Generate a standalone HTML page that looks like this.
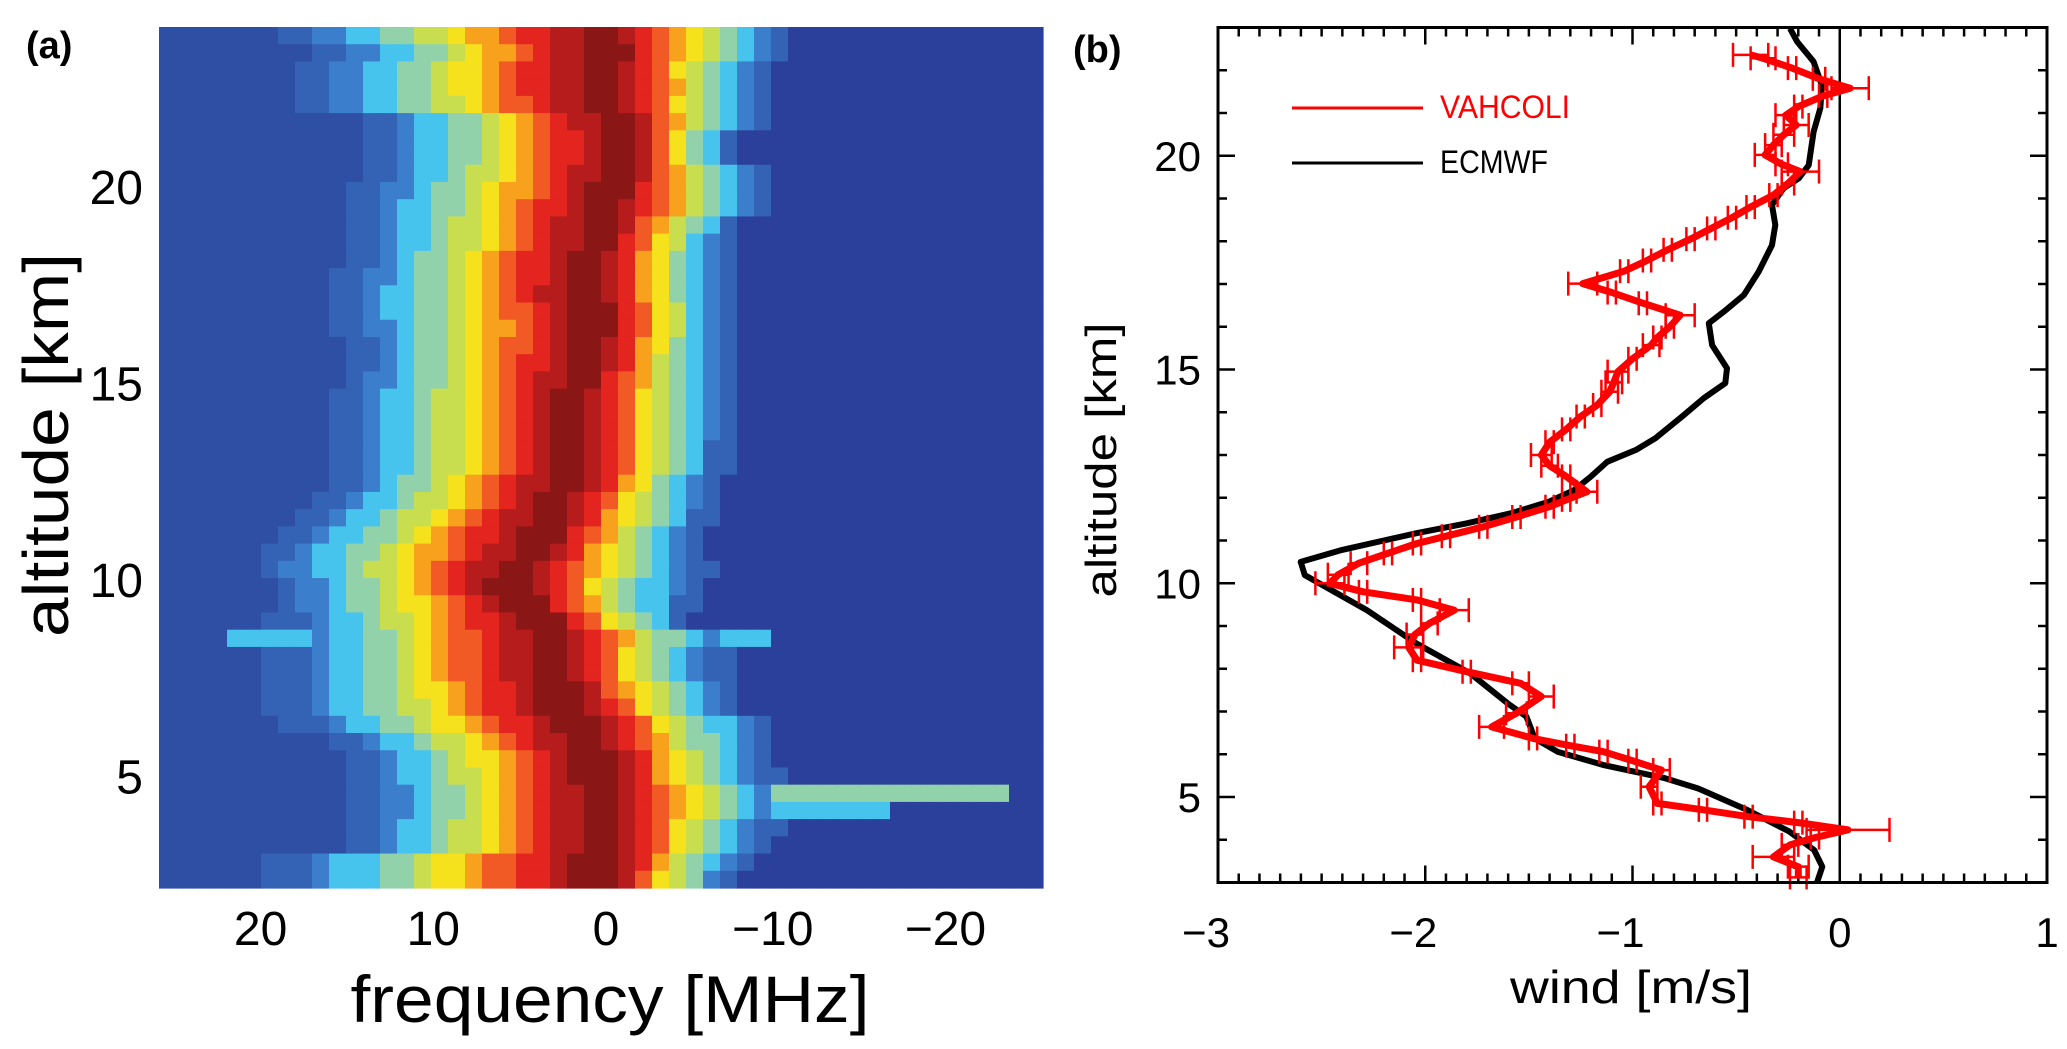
<!DOCTYPE html>
<html><head><meta charset="utf-8"><style>
html,body{margin:0;padding:0;background:#fff;}
svg{display:block;}
text{font-family:"Liberation Sans",sans-serif;}
</style></head>
<body>
<svg id="fig" width="2067" height="1049" viewBox="0 0 2067 1049" xmlns="http://www.w3.org/2000/svg">
<rect width="2067" height="1049" fill="#fff"/>
<g id="heatmap"></g>
<g id="panelA">
<text x="26" y="58" font-size="38" font-weight="bold">(a)</text>
<text transform="translate(68,445) rotate(-90)" text-anchor="middle" font-size="64" textLength="384" lengthAdjust="spacingAndGlyphs">altitude [km]</text>
<text x="610" y="1022" text-anchor="middle" font-size="66" textLength="519" lengthAdjust="spacingAndGlyphs">frequency [MHz]</text>
</g>
<g id="panelB">
<text x="1073" y="62" font-size="38" font-weight="bold">(b)</text>
<text transform="translate(1116,460) rotate(-90)" text-anchor="middle" font-size="44" textLength="275" lengthAdjust="spacingAndGlyphs">altitude [km]</text>
<text x="1631" y="1003" text-anchor="middle" font-size="46" textLength="242" lengthAdjust="spacingAndGlyphs">wind [m/s]</text>
<g>
<line x1="1292" y1="108" x2="1423" y2="108" stroke="#f00" stroke-width="3"/>
<text x="1440" y="118" font-size="32" fill="#f00" textLength="130" lengthAdjust="spacingAndGlyphs">VAHCOLI</text>
<line x1="1292" y1="163" x2="1423" y2="163" stroke="#000" stroke-width="3"/>
<text x="1440" y="173" font-size="32" fill="#000" textLength="108" lengthAdjust="spacingAndGlyphs">ECMWF</text>
</g>
</g>
</svg>
<script>
// ---------- Panel (a) heatmap data (per altitude row, top to bottom) ----------
const rowCenter = [-0.2,-0.3,0.1,-0.2,-0.3,-0.8,-1.2,-1.2,-0.8,-0.5,-0.2,0.1,0.3,1.1,1.1,1.1,0.5,0.5,0.8,1.2,1.5,1.8,1.8,1.8,1.8,1.8,2.2,2.6,3.1,3.5,4.3,5.1,5.5,4.5,3.5,3.1,3.1,3.1,2.6,2.2,1.5,1.1,0.5,0.5,0.5,0.5,0.1,0.1,0.1,0.1];
const rowLeft = [17,15,16.4,16.4,16,12.4,12.4,12.4,12.6,13,13.5,13.8,13.8,13.8,14,14.4,14.4,14,13.8,13.8,14,14.1,14.1,14.1,14.1,14.1,14.8,15.5,16.8,17.5,18.2,18.8,17.8,17.8,17.8,17.8,17.8,17.8,17.8,17.8,16.8,14.8,13.8,13.5,13.1,13.1,13.5,13.8,17.8,17.8];
const rowRight = [-9.8,-9.5,-8.8,-8.8,-8.5,-8.5,-7,-6.8,-8.5,-8.8,-8.8,-7,-6.8,-6.8,-6.8,-6.8,-6.8,-6.8,-6.8,-6.8,-6.8,-6.8,-6.8,-6.5,-6.2,-6.2,-6,-5.5,-5.2,-5,-4.9,-5,-4.5,-4.2,-4.2,-6.5,-6.2,-6.2,-6.5,-6.8,-8.5,-8.5,-8.8,-9,-10,-10.2,-9,-8.5,-7.5,-6.8];
const shelfLeft = [0,0,0,0,0,0,0,0,0,0,0,0,0,0,0,0,0,0,0,0,0,0,0,0,0,0,0,0,0,0,0,0,0,0,0,22,0,0,0,0,0,0,0,0,0,0,0,0,0,0];
const shelfRight = [0,0,0,0,0,0,0,0,0,0,0,0,0,0,0,0,0,0,0,0,0,0,0,0,0,0,0,0,0,0,0,0,0,0,0,-9.5,0,0,0,0,0,0,0,0,-23.5,-16,0,0,0,0];
const freqTicks = [20,10,0,-10,-20];
const freqTickLabels = ["20","10","0","\u221210","\u221220"];
const altTicksA = [20,15,10,5];

// ---------- Panel (b) data ----------
const ecmwfAlt = [22.98,22.67,22.2,21.65,21.11,20.56,19.78,19.47,19.24,18.85,18.38,17.91,17.29,16.74,16.35,16.08,15.57,15.03,14.68,14.33,13.93,13.39,13.12,12.84,12.49,12.18,11.91,11.64,11.40,11.17,10.78,10.50,10.19,9.37,8.59,7.89,7.19,6.88,6.37,6.06,5.75,5.44,5.20,4.69,4.19,3.76,3.37,3.0];
const ecmwfWind = [-0.24,-0.206,-0.126,-0.086,-0.094,-0.126,-0.15,-0.198,-0.271,-0.327,-0.311,-0.327,-0.391,-0.463,-0.56,-0.632,-0.616,-0.544,-0.552,-0.656,-0.753,-0.89,-0.983,-1.122,-1.202,-1.282,-1.402,-1.582,-1.802,-2.042,-2.401,-2.601,-2.581,-2.281,-2.042,-1.782,-1.602,-1.512,-1.472,-1.362,-1.143,-0.843,-0.683,-0.443,-0.243,-0.124,-0.084,-0.11];
const vahAlt = [22.36,22.28,22.05,21.8,21.58,21.4,21.15,20.95,20.72,20.49,20.25,20.02,19.8,19.63,19.35,19.08,18.8,18.55,18.3,18.05,17.8,17.55,17.3,17.01,16.8,16.55,16.27,16.0,15.75,15.57,15.25,14.95,14.7,14.48,14.17,13.9,13.6,13.3,13.0,12.75,12.5,12.14,11.95,11.79,11.55,11.32,11.1,10.93,10.7,10.47,10.2,10.0,9.8,9.61,9.37,9.06,8.8,8.5,8.2,7.93,7.66,7.35,6.96,6.64,6.37,6.2,6.06,5.85,5.63,5.24,4.85,4.7,4.54,4.4,4.23,4.05,3.88,3.6,3.37,3.12];
const vahWind = [-0.43,-0.37,-0.23,-0.1,0.05,-0.08,-0.2,-0.26,-0.21,-0.27,-0.32,-0.36,-0.28,-0.19,-0.25,-0.32,-0.43,-0.52,-0.62,-0.72,-0.83,-0.93,-1.04,-1.24,-1.1,-0.95,-0.77,-0.82,-0.88,-0.91,-1.0,-1.07,-1.09,-1.11,-1.17,-1.25,-1.32,-1.4,-1.44,-1.4,-1.32,-1.22,-1.32,-1.4,-1.56,-1.72,-1.9,-2.04,-2.18,-2.32,-2.42,-2.46,-2.3,-2.04,-1.86,-1.98,-2.05,-2.08,-2.04,-1.8,-1.54,-1.44,-1.56,-1.68,-1.48,-1.3,-1.14,-1.0,-0.86,-0.92,-0.88,-0.66,-0.44,-0.2,0.04,-0.12,-0.24,-0.32,-0.2,-0.2];
const vahErr = [0.085,0.06,0.02,0.03,0.09,0.02,0.02,0.05,0.06,0.05,0.04,0.05,0.03,0.09,0.03,0.02,0.02,0.02,0.02,0.02,0.02,0.02,0.02,0.07,0.02,0.02,0.07,0.02,0.02,0.04,0.02,0.05,0.04,0.04,0.02,0.02,0.02,0.02,0.05,0.04,0.02,0.05,0.02,0.02,0.02,0.02,0.02,0.02,0.02,0.04,0.05,0.07,0.02,0.02,0.07,0.04,0.04,0.07,0.02,0.02,0.04,0.06,0.05,0.06,0.02,0.02,0.02,0.02,0.04,0.04,0.02,0.02,0.02,0.02,0.2,0.02,0.04,0.1,0.05,0.04];
const windTicks = [-3,-2,-1,0,1];
const windTickLabels = ["\u22123","\u22122","\u22121","0","1"];
const altTicksB = [5,10,15,20];

const NS = "http://www.w3.org/2000/svg";
function mk(tag, attrs, parent){ const e=document.createElementNS(NS,tag); for(const k in attrs) e.setAttribute(k,attrs[k]); parent.appendChild(e); return e; }

// ---- Panel (a) axes ----
const HX0=159, HX1=1043, HY0=27, HY1=888;
const fx = f => 606 - f*17.27;
const ayA = a => 187 + (20-a)*39.3;
const NC=52, NR=rowCenter.length;
const cw=(HX1-HX0)/NC, ch=(HY1-HY0)/NR;
const palette=[[0.9,"#8a1716"],[0.8,"#b71c1c"],[0.7,"#e3241f"],[0.62,"#f15a25"],[0.54,"#f8a11c"],[0.46,"#f5e11c"],[0.36,"#c9de4f"],[0.24,"#92d2ab"],[0.12,"#46c4ee"],[0.02,"#3b7fcc"],[-0.12,"#3462b4"]];
function colorOf(v,f){ for(const p of palette){ if(v>=p[0]) return p[1]; } return f>0 ? "#2f4fa5" : "#2b409a"; }
const hm=document.getElementById("heatmap");
for(let i=0;i<NR;i++){
  for(let j=0;j<NC;j++){
    const xc=HX0+(j+0.5)*cw;
    const f=(606-xc)/17.27;
    const c=rowCenter[i];
    let t = f>=c ? (f-c)/(rowLeft[i]-c) : (c-f)/(c-rowRight[i]);
    let v = 1-t;
    if(v<0.02){
      if(shelfLeft[i] && f>c && f<=shelfLeft[i]) v=0.2;
      if(shelfRight[i] && f<c && f>=shelfRight[i]) v=(i===44)?0.3:0.14;
    }
    const r=mk("rect",{x:(HX0+j*cw).toFixed(2),y:(HY0+i*ch).toFixed(2),width:(cw+0.6).toFixed(2),height:(ch+0.6).toFixed(2),fill:colorOf(v,f)},hm);
    
    
  }
}
const pa=document.getElementById("panelA");
freqTicks.forEach((f,k)=>{
  const t=mk("text",{x:(fx(f)-(f<0?6:0)).toFixed(1),y:945,"text-anchor":"middle","font-size":"48"},pa);
  t.textContent=freqTickLabels[k];
  
  
});
altTicksA.forEach(a=>{
  const t=mk("text",{x:143,y:(ayA(a)+17).toFixed(1),"text-anchor":"end","font-size":"48"},pa);
  t.textContent=String(a);
  
  
});

// ---- Panel (b) ----
const BX0=1218, BX1=2047, BY0=27.5, BY1=882.5;
const px = w => BX0 + (w+3)*(BX1-BX0)/4;
const py = a => BY1 - (a-3)*(BY1-BY0)/20;
const pb=document.getElementById("panelB");
const plot=mk("g",{},pb);


const zl=mk("line",{x1:px(0),y1:BY0,x2:px(0),y2:BY1,stroke:"#000","stroke-width":2.5},plot);


for(let k=0;k<=40;k++){
  const w=-3+k*0.1, x=px(w), L=(k%10===0)?17:9;
  mk("line",{x1:x,y1:BY1,x2:x,y2:BY1-L,stroke:"#000","stroke-width":2.5},plot);
  mk("line",{x1:x,y1:BY0,x2:x,y2:BY0+L,stroke:"#000","stroke-width":2.5},plot);
}
for(let a=4;a<=22;a++){
  const y=py(a), L=(a%5===0)?17:9;
  mk("line",{x1:BX0,y1:y,x2:BX0+L,y2:y,stroke:"#000","stroke-width":2.5},plot);
  mk("line",{x1:BX1,y1:y,x2:BX1-L,y2:y,stroke:"#000","stroke-width":2.5},plot);
}
windTicks.forEach((w,k)=>{
  const t=mk("text",{x:(px(w)+(w<0?-12:0)).toFixed(1),y:947,"text-anchor":"middle","font-size":"42"},pb);
  t.textContent=windTickLabels[k];
  
  
});
altTicksB.forEach(a=>{
  const t=mk("text",{x:1201,y:(py(a)+15).toFixed(1),"text-anchor":"end","font-size":"42"},pb);
  t.textContent=String(a);
  
  
});
const ep=mk("polyline",{points:ecmwfAlt.map((a,i)=>px(ecmwfWind[i]).toFixed(1)+","+py(a).toFixed(1)).join(" "),fill:"none",stroke:"#000","stroke-width":6,"stroke-linejoin":"round"},plot);


vahAlt.forEach((a,i)=>{
  const y=py(a), xl=px(vahWind[i]-vahErr[i]), xr=px(vahWind[i]+vahErr[i]);
  const g=mk("g",{stroke:"#f00","stroke-width":2.5},plot);
  
  
  mk("line",{x1:xl,y1:y,x2:xr,y2:y},g);
  mk("line",{x1:xl,y1:y-12,x2:xl,y2:y+12},g);
  mk("line",{x1:xr,y1:y-12,x2:xr,y2:y+12},g);
});
const vp=mk("polyline",{points:vahAlt.map((a,i)=>px(vahWind[i]).toFixed(1)+","+py(a).toFixed(1)).join(" "),fill:"none",stroke:"#f00","stroke-width":7,"stroke-linejoin":"round"},plot);


const fr=mk("rect",{x:BX0,y:BY0,width:BX1-BX0,height:BY1-BY0,fill:"none",stroke:"#000","stroke-width":3},plot);


</script>
</body></html>
